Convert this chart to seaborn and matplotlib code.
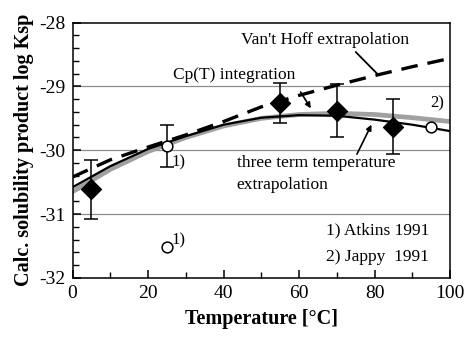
"""Calcite solubility product vs temperature: fits and literature data."""
import matplotlib
matplotlib.use("Agg")
import matplotlib.pyplot as plt
import numpy as np
import pandas as pd
import seaborn as sns
from matplotlib.ticker import MultipleLocator

# curves
temp_grid = [0, 10, 20, 30, 40, 50, 60, 70, 80, 90, 100]
vanthoff = [-30.42, -30.15, -29.95, -29.76, -29.55, -29.32, -29.14, -28.98, -28.83, -28.69, -28.56]
cp_integration = [-30.65, -30.3, -30.02, -29.8, -29.62, -29.5, -29.44, -29.42, -29.44, -29.49, -29.55]
three_term = [-30.58, -30.25, -29.98, -29.78, -29.6, -29.49, -29.45, -29.46, -29.52, -29.6, -29.7]

# own data (filled diamonds) with error bars
own_t = [5, 55, 70, 85]
own_logk = [-30.61, -29.26, -29.38, -29.63]
own_err = [0.46, 0.31, 0.42, 0.43]

# literature (open circles)
lit_t = [25, 25, 95]
lit_logk = [-29.94, -31.52, -29.64]
lit_err = [0.33, 0.0, 0.0]
lit_ref = ["1)", "1)", "2)"]

sns.set_style("ticks")
plt.rcParams["font.family"] = ["Liberation Serif", "DejaVu Serif"]
plt.rcParams["axes.unicode_minus"] = False
plt.rcParams["xtick.direction"] = "in"
plt.rcParams["ytick.direction"] = "in"
plt.rcParams["text.color"] = "black"
plt.rcParams["xtick.color"] = "black"
plt.rcParams["ytick.color"] = "black"
plt.rcParams["axes.labelcolor"] = "black"

fig = plt.figure(figsize=(4.65, 3.38), dpi=100)
ax = fig.add_axes([0.156, 0.178, 0.812, 0.755])

for yv in (-29, -30, -31):
    ax.axhline(yv, color="#8c8c8c", lw=0.9, zorder=0)

curves = pd.DataFrame({"T": temp_grid, "vh": vanthoff, "cp": cp_integration, "tt": three_term})
sns.lineplot(data=curves, x="T", y="cp", ax=ax, color="#a0a0a0", lw=3.4, zorder=2)
sns.lineplot(data=curves, x="T", y="tt", ax=ax, color="black", lw=1.6, zorder=3)
sns.lineplot(data=curves, x="T", y="vh", ax=ax, color="black", lw=2.4, zorder=3,
             linestyle=(0, (5, 3)))

ax.errorbar(own_t, own_logk, yerr=own_err, fmt="none", ecolor="black", elinewidth=1.1,
            capsize=4.8, capthick=1.1, zorder=4)
ax.errorbar(lit_t[:1], lit_logk[:1], yerr=lit_err[:1], fmt="none", ecolor="black",
            elinewidth=1.1, capsize=4.8, capthick=1.1, zorder=4)
sns.scatterplot(x=own_t, y=own_logk, ax=ax, marker="D", s=105, color="black",
                edgecolor="black", zorder=5)
sns.scatterplot(x=lit_t, y=lit_logk, ax=ax, marker="o", s=60, facecolor="white",
                edgecolor="black", linewidth=1.1, zorder=5)

for t, k, r in zip(lit_t, lit_logk, lit_ref):
    if r == "2)":
        ax.text(t + 1.5, k + 0.37, r, fontsize=12, ha="center", va="center")
    elif k < -31:
        ax.text(t + 1.2, k + 0.1, r, fontsize=12, ha="left", va="center")
    else:
        ax.text(t + 1.2, k - 0.25, r, fontsize=12, ha="left", va="center")

ax.text(44.5, -28.27, "Van't Hoff extrapolation", fontsize=12.5, va="center")
ax.plot([75, 81], [-28.46, -28.82], color="black", lw=1.3)
ax.text(26.5, -28.82, "Cp(T) integration", fontsize=12.5, va="center")
ax.annotate("", xy=(63.5, -29.38), xytext=(60, -29.05),
            arrowprops=dict(arrowstyle="-|>", color="black", lw=1.2, mutation_scale=8))
ax.text(43.5, -30.08, "three term temperature\nextrapolation", fontsize=12.5, va="top",
        linespacing=1.45)
ax.annotate("", xy=(79.5, -29.56), xytext=(75, -30.1),
            arrowprops=dict(arrowstyle="-|>", color="black", lw=1.2, mutation_scale=8))
ax.text(94.5, -31.25, "1) Atkins 1991", fontsize=12.5, ha="right", va="center")
ax.text(94.5, -31.67, "2) Jappy  1991", fontsize=12.5, ha="right", va="center")

ax.set_xlim(0, 100)
ax.set_ylim(-32, -28)
ax.xaxis.set_major_locator(MultipleLocator(20))
ax.xaxis.set_minor_locator(MultipleLocator(10))
ax.yaxis.set_major_locator(MultipleLocator(1))
ax.yaxis.set_minor_locator(MultipleLocator(0.2))
ax.tick_params(which="major", length=6, width=1.1, labelsize=14, pad=5)
ax.tick_params(which="minor", length=4, width=1.0)
for s in ax.spines.values():
    s.set_linewidth(1.1)
    s.set_color("black")
ax.set_xlabel("Temperature [°C]", fontsize=14.5, fontweight="bold", labelpad=5)
ax.set_ylabel("Calc. solubility product log Ksp", fontsize=14.5, fontweight="bold",
              labelpad=4)

fig.savefig("out.png", dpi=100, facecolor="white")
